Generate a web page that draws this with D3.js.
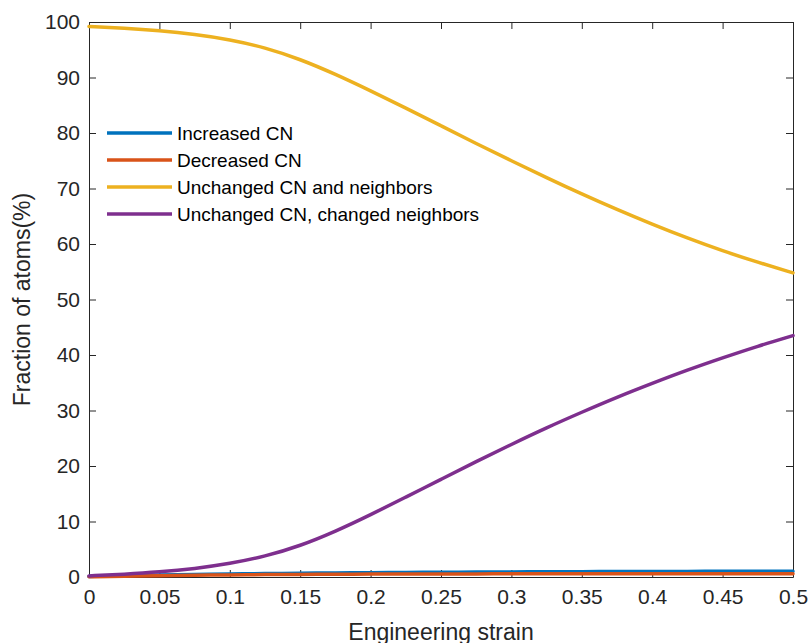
<!DOCTYPE html>
<html lang="en">
<head>
<meta charset="utf-8">
<title>Fraction of atoms vs engineering strain</title>
<script src="https://cdn.jsdelivr.net/npm/d3@7"></script>
<style>
body { margin: 0; background: #fff; }
svg { display: block; font-family: "Liberation Sans", Arial, sans-serif; }
.axis path, .axis line { stroke: #262626; }
.axis text { fill: #262626; }
</style>
</head>
<body>
<script>
// data
var strain = [0, 0.025, 0.05, 0.075, 0.1, 0.125, 0.15, 0.175, 0.2, 0.225, 0.25,
              0.275, 0.3, 0.325, 0.35, 0.375, 0.4, 0.425, 0.45, 0.475, 0.5];
var increasedCN = [0.1, 0.25, 0.35, 0.45, 0.55, 0.62, 0.68, 0.74, 0.78, 0.82, 0.86,
                   0.89, 0.92, 0.94, 0.96, 0.98, 1.0, 1.01, 1.02, 1.03, 1.04];
var decreasedCN = [0.05, 0.15, 0.25, 0.32, 0.38, 0.43, 0.47, 0.5, 0.52, 0.54, 0.55,
                   0.56, 0.57, 0.57, 0.58, 0.58, 0.59, 0.59, 0.6, 0.6, 0.6];
var unchangedBoth = [99.2, 98.9, 98.45, 97.8, 96.85, 95.4, 93.3, 90.6, 87.6, 84.5, 81.3,
                     78.1, 75.0, 71.95, 69.0, 66.2, 63.55, 61.05, 58.75, 56.7, 54.8];
var changedNeighbors = [0.2, 0.5, 0.9, 1.5, 2.4, 3.7, 5.6, 8.2, 11.2, 14.4, 17.6,
                        20.8, 23.9, 26.9, 29.7, 32.4, 34.9, 37.3, 39.5, 41.6, 43.5];
var seriesNames = ["Increased CN", "Decreased CN", "Unchanged CN and neighbors", "Unchanged CN, changed neighbors"];
var seriesColors = ["#0072BD", "#D95319", "#EDB120", "#7E2F8E"];
var xTicks = [0, 0.05, 0.1, 0.15, 0.2, 0.25, 0.3, 0.35, 0.4, 0.45, 0.5];
var yTicks = [0, 10, 20, 30, 40, 50, 60, 70, 80, 90, 100];

var width = 808, height = 643;
var plotLeft = 89, plotRight = 793, plotTop = 22, plotBottom = 577;

var svg = d3.select("body").append("svg").attr("width", width).attr("height", height);
svg.append("rect").attr("width", width).attr("height", height).attr("fill", "#fff");

var x = d3.scaleLinear().domain([0, 0.5]).range([plotLeft, plotRight]);
var y = d3.scaleLinear().domain([0, 100]).range([plotBottom, plotTop]);

// axes (ticks point inward, mirrored on top/right)
svg.append("g").attr("class", "axis")
  .attr("transform", "translate(0," + plotBottom + ")")
  .call(d3.axisBottom(x).tickValues(xTicks).tickSizeInner(-7).tickSizeOuter(0).tickPadding(12)
        .tickFormat(function(d) { return String(d); }))
  .call(function(g) { g.selectAll("text").attr("font-size", 21).attr("font-family", null); });
svg.append("g").attr("class", "axis")
  .attr("transform", "translate(" + plotLeft + ",0)")
  .call(d3.axisLeft(y).tickValues(yTicks).tickSizeInner(-7).tickSizeOuter(0).tickPadding(9))
  .call(function(g) { g.selectAll("text").attr("font-size", 21).attr("font-family", null); });
svg.append("g").attr("class", "axis")
  .attr("transform", "translate(0," + plotTop + ")")
  .call(d3.axisTop(x).tickValues(xTicks).tickSizeInner(-7).tickSizeOuter(0).tickFormat(""));
svg.append("g").attr("class", "axis")
  .attr("transform", "translate(" + plotRight + ",0)")
  .call(d3.axisRight(y).tickValues(yTicks).tickSizeInner(-7).tickSizeOuter(0).tickFormat(""));

// lines
var allSeries = [increasedCN, decreasedCN, unchangedBoth, changedNeighbors];
var line = d3.line()
  .x(function(d, i) { return x(strain[i]); })
  .y(function(d) { return y(d); })
  .curve(d3.curveBasis);

svg.append("g").selectAll("path")
  .data(allSeries)
  .enter().append("path")
  .attr("d", line)
  .attr("fill", "none")
  .attr("stroke", function(d, i) { return seriesColors[i]; })
  .attr("stroke-width", 3.5)
  .attr("stroke-linejoin", "round")
  .attr("stroke-linecap", "round");

// legend, no box
var legend = svg.append("g").selectAll("g")
  .data(seriesNames)
  .enter().append("g")
  .attr("transform", function(d, i) { return "translate(107," + (133 + i * 27) + ")"; });
legend.append("line")
  .attr("x1", 0).attr("x2", 65)
  .attr("stroke", function(d, i) { return seriesColors[i]; })
  .attr("stroke-width", 3.5);
legend.append("text")
  .attr("x", 70).attr("dy", "0.35em")
  .attr("font-size", 19).attr("fill", "#000")
  .text(function(d) { return d; });

// axis labels
svg.append("text")
  .attr("x", (plotLeft + plotRight) / 2).attr("y", 640)
  .attr("text-anchor", "middle").attr("font-size", 23).attr("fill", "#262626")
  .text("Engineering strain");
svg.append("text")
  .attr("transform", "translate(30," + ((plotTop + plotBottom) / 2) + ") rotate(-90)")
  .attr("text-anchor", "middle").attr("font-size", 23).attr("fill", "#262626")
  .text("Fraction of atoms(%)");
</script>
</body>
</html>
